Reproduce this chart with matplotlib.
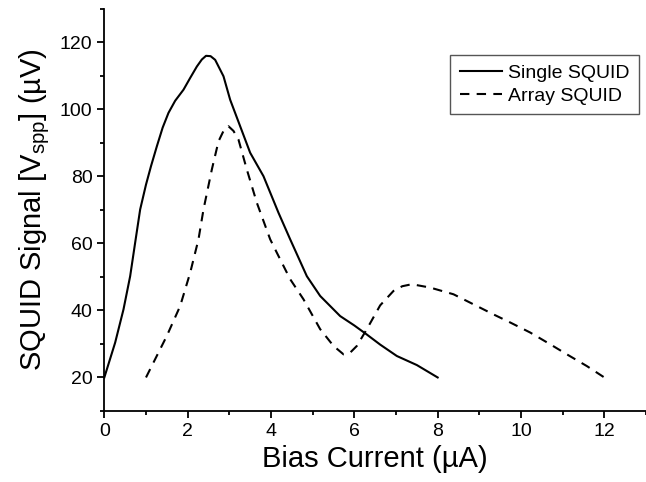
import numpy as np
import matplotlib.pyplot as plt
from matplotlib.ticker import MultipleLocator

plt.rcParams['font.family'] = ['Liberation Sans', 'DejaVu Sans']
plt.rcParams['mathtext.default'] = 'regular'

# Single SQUID (solid)
single_x = [0.0, 0.26, 0.46, 0.62, 0.74, 0.86, 1.0, 1.12, 1.26, 1.40, 1.54, 1.70,
            1.90, 2.06, 2.22, 2.34, 2.44, 2.55, 2.66, 2.86, 3.02, 3.26, 3.50, 3.82,
            4.18, 4.46, 4.86, 5.18, 5.42, 5.66, 6.0, 6.30, 6.62, 7.02, 7.50, 8.0]
single_y = [20.0, 30.4, 40.3, 50.2, 60.2, 70.1, 77.5, 83.0, 88.9, 94.5, 98.9, 102.5,
            105.8, 109.3, 112.7, 114.8, 115.9, 115.8, 114.7, 109.8, 102.8, 94.9, 87.0, 80.0,
            69.1, 61.2, 50.2, 44.3, 41.3, 38.3, 35.5, 32.8, 29.8, 26.4, 23.7, 20.0]

# Array SQUID (dashed)
array_x = [1.0, 1.50, 1.82, 2.06, 2.26, 2.38, 2.58, 2.74, 2.86, 2.98, 3.10, 3.22,
           3.42, 3.66, 3.98, 4.14, 4.46, 4.78, 5.18, 5.50, 5.74, 5.90, 6.06, 6.30,
           6.62, 6.94, 7.15, 7.38, 7.82, 8.38, 8.86, 9.34, 9.74, 10.22, 10.70, 11.10,
           11.58, 12.0]
array_y = [20.0, 32.4, 41.3, 51.2, 61.2, 70.1, 82.0, 90.4, 93.5, 94.9, 93.5, 90.9,
           82.0, 72.1, 61.2, 57.2, 49.3, 43.3, 34.4, 29.4, 26.9, 27.4, 29.4, 34.4,
           41.5, 45.8, 47.2, 47.8, 46.8, 44.8, 41.8, 38.8, 36.4, 33.4, 29.9, 26.9,
           23.4, 20.0]

fig = plt.figure(figsize=(6.46, 4.82), dpi=100)
ax = fig.add_axes([0.1615, 0.1473, 0.8385, 0.835])

ax.plot(single_x, single_y, color='black', lw=1.5, label='Single SQUID')
ax.plot(array_x, array_y, color='black', lw=1.5, dashes=(4.5, 3.5), label='Array SQUID')

ax.set_xlim(0, 13)
ax.set_ylim(10, 130)
ax.xaxis.set_major_locator(MultipleLocator(2))
ax.xaxis.set_minor_locator(MultipleLocator(1))
ax.yaxis.set_minor_locator(MultipleLocator(10))
ax.set_yticks([20, 40, 60, 80, 100, 120])

for s in ['top', 'right']:
    ax.spines[s].set_visible(False)
for s in ['left', 'bottom']:
    ax.spines[s].set_linewidth(1.3)
ax.tick_params(which='major', direction='out', length=5, width=1.3, labelsize=14)
ax.tick_params(which='minor', direction='out', length=3, width=1.3)

ax.set_xlabel('Bias Current (µA)', fontsize=21, labelpad=4)
ax.set_ylabel('SQUID Signal [V$_{spp}$] (µV)', fontsize=21, labelpad=6)

leg = ax.legend(loc='upper right', bbox_to_anchor=(0.988, 0.885), borderaxespad=0,
                fontsize=14, fancybox=False, edgecolor='#555555', framealpha=1,
                handlelength=2.2, handletextpad=0.3, borderpad=0.5, labelspacing=0.25)
leg.get_frame().set_linewidth(1.0)

fig.savefig('out.png', dpi=100)
